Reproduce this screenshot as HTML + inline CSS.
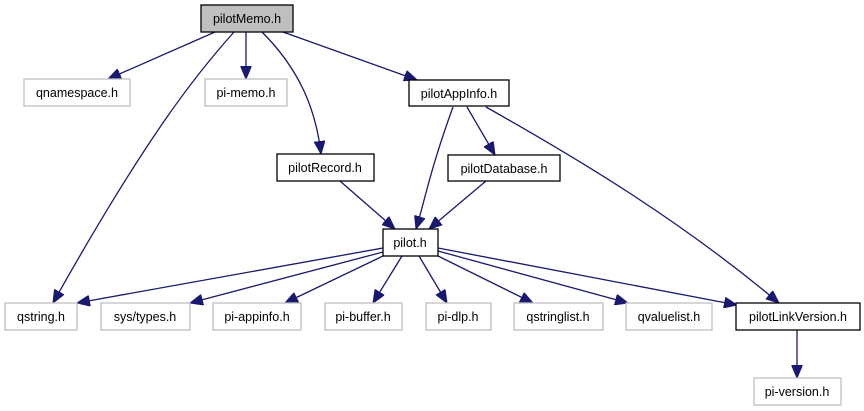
<!DOCTYPE html>
<html><head><meta charset="utf-8"><style>
html,body{margin:0;padding:0;background:#fff}
svg{display:block}
text{font-family:"Liberation Sans",sans-serif;font-size:12.5px;fill:#000;text-anchor:middle}
.e{fill:none;stroke:#191970;stroke-width:1.3}
.g{fill:#fff;stroke:#c0c0c0;stroke-width:1.3}
.b{fill:#fff;stroke:#000;stroke-width:1.3}
</style></head><body>
<svg width="864" height="411" viewBox="0 0 864 411" xmlns="http://www.w3.org/2000/svg">
<defs><marker id="a" viewBox="0 0 13 11" refX="13" refY="5.5" markerWidth="13" markerHeight="11" markerUnits="userSpaceOnUse" orient="auto"><path d="M0,0 L13,5.5 L0,11 z" fill="#191970" stroke="#191970"/></marker></defs>
<path class="e" marker-end="url(#a)" d="M215,32 L108,79"/>
<path class="e" marker-end="url(#a)" d="M246,32 L246,79"/>
<path class="e" marker-end="url(#a)" d="M262,32 C300,70 316,110 321,154"/>
<path class="e" marker-end="url(#a)" d="M283,32 L417,80"/>
<path class="e" marker-end="url(#a)" d="M234,32 C200,70 150,130 53,303"/>
<path class="e" marker-end="url(#a)" d="M340,181 L395,229"/>
<path class="e" marker-end="url(#a)" d="M453,107 C430,170 425,200 416,229"/>
<path class="e" marker-end="url(#a)" d="M486,181 L429,229"/>
<path class="e" marker-end="url(#a)" d="M467,107 L495,155"/>
<path class="e" marker-end="url(#a)" d="M486,107 C580,160 680,220 779,303"/>
<path class="e" marker-end="url(#a)" d="M383,248 L77,303"/>
<path class="e" marker-end="url(#a)" d="M383,252 L190,303"/>
<path class="e" marker-end="url(#a)" d="M383,256 L285,303"/>
<path class="e" marker-end="url(#a)" d="M402,256 L373,303"/>
<path class="e" marker-end="url(#a)" d="M419,256 L447,303"/>
<path class="e" marker-end="url(#a)" d="M438,256 L533,303"/>
<path class="e" marker-end="url(#a)" d="M438,251 L628,303"/>
<path class="e" marker-end="url(#a)" d="M438,248 L737,305"/>
<path class="e" marker-end="url(#a)" d="M797,330 L797,378"/>
<rect x="201" y="5" width="92" height="27" fill="#bfbfbf" stroke="#000" stroke-width="1.3"/><text x="247" y="23">pilotMemo.h</text>
<rect class="g" x="24" y="79" width="106" height="27"/><text x="77" y="97">qnamespace.h</text>
<rect class="g" x="205" y="79" width="82" height="27"/><text x="246" y="97">pi-memo.h</text>
<rect class="b" x="409" y="80" width="100" height="26"/><text x="459" y="98">pilotAppInfo.h</text>
<rect class="b" x="277" y="154" width="97" height="27"/><text x="325" y="172">pilotRecord.h</text>
<rect class="b" x="448" y="155" width="112" height="26"/><text x="504" y="173">pilotDatabase.h</text>
<rect class="b" x="383" y="229" width="55" height="27"/><text x="410" y="247">pilot.h</text>
<rect class="g" x="5" y="303" width="72" height="27"/><text x="41" y="321">qstring.h</text>
<rect class="g" x="101" y="303" width="89" height="27"/><text x="145" y="321">sys/types.h</text>
<rect class="g" x="213" y="303" width="88" height="27"/><text x="257" y="321">pi-appinfo.h</text>
<rect class="g" x="325" y="303" width="77" height="27"/><text x="363" y="321">pi-buffer.h</text>
<rect class="g" x="426" y="303" width="65" height="27"/><text x="458" y="321">pi-dlp.h</text>
<rect class="g" x="514" y="303" width="89" height="27"/><text x="558" y="321">qstringlist.h</text>
<rect class="g" x="626" y="303" width="86" height="27"/><text x="669" y="321">qvaluelist.h</text>
<rect class="b" x="736" y="303" width="124" height="27"/><text x="798" y="321">pilotLinkVersion.h</text>
<rect class="g" x="754" y="378" width="87" height="27"/><text x="797" y="396">pi-version.h</text>
</svg>
</body></html>
